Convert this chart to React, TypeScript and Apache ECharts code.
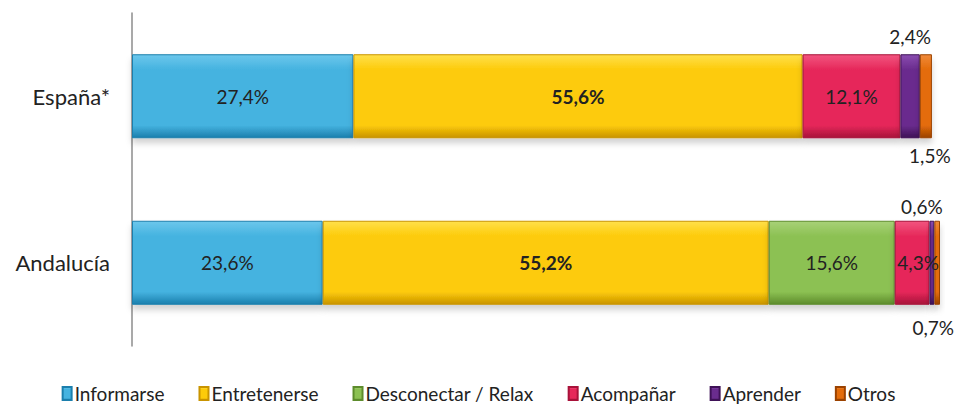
import React, { useEffect, useRef } from "react";
import * as echarts from "echarts";

const categories = ["España*", "Andalucía"];
const seriesNames = ["Informarse", "Entretenerse", "Desconectar / Relax", "Acompañar", "Aprender", "Otros"];
const informarse = [27.4, 23.6];
const entretenerse = [55.6, 55.2];
const desconectar = [0, 15.6];
const acompanar = [12.1, 4.3];
const aprender = [2.4, 0.6];
const otros = [1.5, 0.7];

const colors = [
  ["#6cc7ec", "#45b3e0", "#1b7fad"],
  ["#ffe04a", "#fdcb0a", "#c99400"],
  ["#a8d178", "#8cc153", "#5d8c2c"],
  ["#f2557f", "#e6285a", "#a8123a"],
  ["#8a4cb0", "#6a2c8e", "#3f1257"],
  ["#f08a3a", "#e46c0a", "#9b4200"],
];

// label placement per series per category: inside / top / bottom
const labelPos = [
  ["inside", "inside"],
  ["inside", "inside"],
  ["inside", "inside"],
  ["inside", "inside"],
  ["top", "top"],
  ["bottom", "bottom"],
];
const labelShiftX = [
  [0, 0],
  [0, 0],
  [0, 0],
  [0, 6],
  [0, -10],
  [4, -4],
];

const fmt = (v: number) => v.toFixed(1).replace(".", ",") + "%";

export default function App() {
  const ref = useRef<HTMLDivElement>(null);
  useEffect(() => {
    if (!ref.current) return;
    const chart = echarts.init(ref.current, null, { renderer: "svg" });
    const all = [informarse, entretenerse, desconectar, acompanar, aprender, otros];
    const font = "Lato, 'Open Sans', sans-serif";
    const series = all.map((vals, si) => ({
      name: seriesNames[si],
      type: "bar",
      stack: "total",
      barWidth: 84,
      itemStyle: {
        color: new echarts.graphic.LinearGradient(0, 0, 0, 1, [
          { offset: 0, color: colors[si][0] },
          { offset: 0.18, color: colors[si][1] },
          { offset: 0.85, color: colors[si][1] },
          { offset: 1, color: colors[si][2] },
        ]),
        borderColor: colors[si][2],
        borderWidth: 1,
        shadowColor: "rgba(0,0,0,0.18)",
        shadowBlur: 6,
        shadowOffsetY: 5,
      },
      data: vals.map((v, ci) => {
        const pos = labelPos[si][ci];
        const bold = si === 1;
        return {
          value: v,
          label: {
            show: v > 0,
            position: pos,
            offset: [labelShiftX[si][ci], 0],
            distance: pos === "top" ? (ci === 0 ? 8 : 5) : pos === "bottom" ? (ci === 0 ? 8 : 13) : 5,
            formatter: () => fmt(v),
            color: "#222",
            fontSize: 19,
            fontFamily: font,
            fontWeight: bold ? "bold" : "normal",
          },
        };
      }),
    }));
    chart.setOption({
      animation: false,
      color: colors.map((c) => c[1]),
      grid: { left: 132, right: 17, top: 13, bottom: 58, containLabel: false },
      xAxis: { type: "value", min: 0, max: 100, show: false },
      yAxis: {
        type: "category",
        data: categories,
        inverse: true,
        axisLine: { show: true, lineStyle: { color: "#8c8c8c", width: 1.5 } },
        axisTick: { show: false },
        axisLabel: { color: "#222", fontSize: 22, fontFamily: font, margin: 22 },
      },
      legend: {
        bottom: -4,
        left: "center",
        icon: "rect",
        itemWidth: 9,
        itemHeight: 13,
        itemGap: 34,
        textStyle: { color: "#222", fontSize: 19, fontFamily: font, padding: [0, 0, 0, -2] },
        data: seriesNames,
      },
      series,
    });
    return () => chart.dispose();
  }, []);
  return (
    <div
      ref={ref}
      style={{ position: "absolute", left: 0, top: 0, width: 957, height: 404, overflow: "hidden" }}
    />
  );
}
